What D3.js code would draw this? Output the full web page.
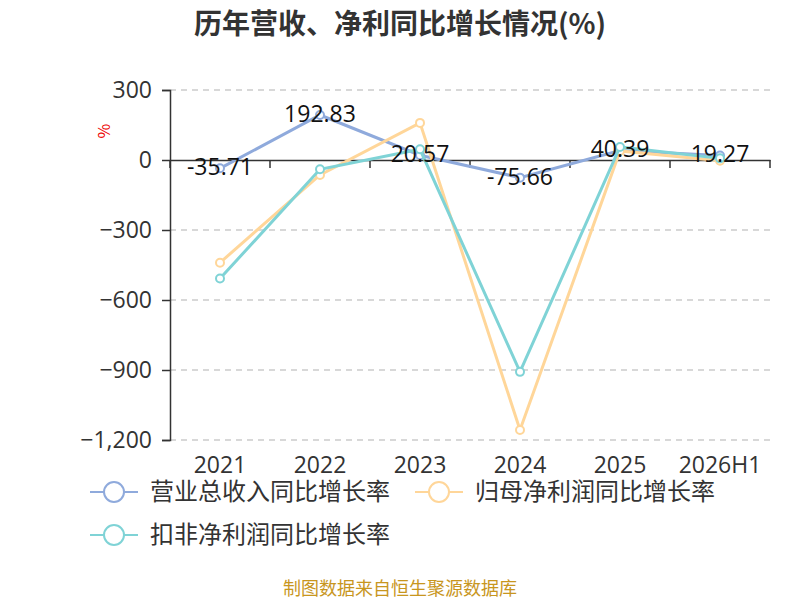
<!DOCTYPE html>
<html>
<head>
<meta charset="utf-8">
<script src="https://cdn.jsdelivr.net/npm/d3@7"></script>
<style>
  body { margin: 0; background: #fff; }
  text { font-family: "Noto Sans CJK SC", "Noto Sans", sans-serif; }
</style>
</head>
<body>
<div id="chart"></div>
<script>
// categories and series
var years = ["2021", "2022", "2023", "2024", "2025", "2026H1"];
var revenueGrowth = [-35.71, 192.83, 20.57, -75.66, 40.39, 19.27];
var netProfitGrowth = [-440, -64, 159, -1157, 39, -3];
var deductedProfitGrowth = [-508, -40, 46, -908, 56, 7];
var yTicks = [300, 0, -300, -600, -900, -1200];

var seriesNames = ["营业总收入同比增长率", "归母净利润同比增长率", "扣非净利润同比增长率"];
var colors = ["#8faadc", "#ffd699", "#7fd3d6"];

var svgWidth = 800;
var svgHeight = 600;
var margin = { top: 90, right: 30, bottom: 160, left: 170 };
var width = svgWidth - margin.left - margin.right;
var height = svgHeight - margin.top - margin.bottom;

var svg = d3.select("#chart")
  .append("svg")
  .attr("width", svgWidth)
  .attr("height", svgHeight);

// title
svg.append("text")
  .attr("x", 400)
  .attr("y", 34)
  .attr("text-anchor", "middle")
  .attr("font-size", 28)
  .attr("font-weight", "bold")
  .attr("fill", "#333")
  .text("历年营收、净利同比增长情况(%)");

var chartGroup = svg.append("g")
  .attr("transform", `translate(${margin.left}, ${margin.top})`);

var xScale = d3.scaleBand()
  .domain(years)
  .range([0, width]);

var yScale = d3.scaleLinear()
  .domain([-1200, 300])
  .range([height, 0]);

// grid lines
chartGroup.selectAll(".grid")
  .data(yTicks.filter(d => d !== 0))
  .enter()
  .append("line")
  .attr("x1", 0)
  .attr("x2", width)
  .attr("y1", d => yScale(d))
  .attr("y2", d => yScale(d))
  .attr("stroke", "#ccc")
  .attr("stroke-width", 1.5)
  .attr("stroke-dasharray", "6,5");

// y axis
var yAxis = chartGroup.append("g")
  .call(d3.axisLeft(yScale).tickValues(yTicks).tickSize(8).tickPadding(10)
    .tickFormat(d3.format(",")));
yAxis.select(".domain").attr("stroke", "#333").attr("stroke-width", 1.5);
yAxis.selectAll(".tick line").attr("stroke", "#333").attr("stroke-width", 1.5);
yAxis.selectAll(".tick text")
  .attr("font-size", 23)
  .attr("fill", "#333")
  .style("font-family", "'Open Sans', sans-serif");

// x axis at zero
var xAxis = chartGroup.append("g")
  .attr("transform", `translate(0, ${yScale(0)})`)
  .call(d3.axisBottom(xScale).tickSize(0).tickFormat(""));
xAxis.select(".domain").attr("stroke", "#333").attr("stroke-width", 1.5);

// boundary ticks
chartGroup.selectAll(".xtick")
  .data(years.concat(["end"]))
  .enter()
  .append("line")
  .attr("x1", (d, i) => i * xScale.step())
  .attr("x2", (d, i) => i * xScale.step())
  .attr("y1", yScale(0))
  .attr("y2", yScale(0) + 8)
  .attr("stroke", "#333")
  .attr("stroke-width", 1.5);

// x labels at bottom
chartGroup.selectAll(".xlabel")
  .data(years)
  .enter()
  .append("text")
  .attr("x", d => xScale(d) + xScale.bandwidth() / 2)
  .attr("y", height + 33)
  .attr("text-anchor", "middle")
  .attr("font-size", 23)
  .attr("fill", "#333")
  .style("font-family", "'Open Sans', sans-serif")
  .text(d => d);

// unit label
svg.append("text")
  .attr("transform", "translate(110, 131) rotate(-90)")
  .attr("text-anchor", "middle")
  .attr("font-size", 16)
  .attr("fill", "#e00")
  .text("%");

// lines
var allSeries = [revenueGrowth, netProfitGrowth, deductedProfitGrowth];
var line = d3.line()
  .x((d, i) => xScale(years[i]) + xScale.bandwidth() / 2)
  .y(d => yScale(d));

allSeries.forEach(function(values, s) {
  var g = chartGroup.append("g");
  g.append("path")
    .datum(values)
    .attr("d", line)
    .attr("fill", "none")
    .attr("stroke", colors[s])
    .attr("stroke-width", 3);
  g.selectAll("circle")
    .data(values)
    .enter()
    .append("circle")
    .attr("cx", (d, i) => xScale(years[i]) + xScale.bandwidth() / 2)
    .attr("cy", d => yScale(d))
    .attr("r", 4)
    .attr("fill", "#fff")
    .attr("stroke", colors[s])
    .attr("stroke-width", 2);
});

// value labels for revenue
chartGroup.selectAll(".vlabel")
  .data(revenueGrowth)
  .enter()
  .append("text")
  .attr("x", (d, i) => xScale(years[i]) + xScale.bandwidth() / 2)
  .attr("y", d => yScale(d))
  .attr("dy", "0.3em")
  .attr("text-anchor", "middle")
  .attr("font-size", 23)
  .attr("fill", "#111")
  .style("font-family", "'Open Sans', sans-serif")
  .text(d => d.toFixed(2));

// legend
var legendPos = [[90, 492], [415, 492], [90, 535]];
seriesNames.forEach(function(name, s) {
  var lg = svg.append("g")
    .attr("transform", `translate(${legendPos[s][0]}, ${legendPos[s][1]})`);
  lg.append("line")
    .attr("x1", 0).attr("x2", 48)
    .attr("y1", 0).attr("y2", 0)
    .attr("stroke", colors[s])
    .attr("stroke-width", 2);
  lg.append("circle")
    .attr("cx", 24).attr("cy", 0).attr("r", 10)
    .attr("fill", "#fff")
    .attr("stroke", colors[s])
    .attr("stroke-width", 2);
  lg.append("text")
    .attr("x", 60).attr("y", 0)
    .attr("dy", "0.35em")
    .attr("font-size", 24)
    .attr("fill", "#333")
    .text(name);
});

// footer
svg.append("text")
  .attr("x", 400)
  .attr("y", 595)
  .attr("text-anchor", "middle")
  .attr("font-size", 18)
  .attr("fill", "#c8961e")
  .text("制图数据来自恒生聚源数据库");
</script>
</body>
</html>
